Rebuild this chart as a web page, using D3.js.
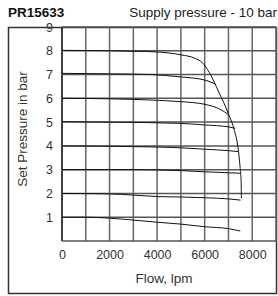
<!DOCTYPE html>
<html>
<head>
<meta charset="utf-8">
<script src="https://cdn.jsdelivr.net/npm/d3@7"></script>
<style>
  body { margin: 0; background: #fff; }
  text { font-family: "Liberation Sans", Arial, sans-serif; }
</style>
</head>
<body>
<div id="chart"></div>
<script>
// set pressure curves (flow lpm, pressure bar)
const curve8 = [[0,8.02],[2000,8.0],[3000,7.98],[4000,7.95],[5000,7.83],[5600,7.68],[5900,7.5],[6200,7.08],[6600,6.25],[7000,5.35],[7250,4.65],[7400,3.95],[7490,3.1],[7530,2.6],[7545,1.8]]
const curve7 = [[0,7.05],[2000,7.03],[3700,7.0],[5000,6.9],[6000,6.77],[6450,6.6]]
const curve6 = [[0,6.0],[2000,5.98],[3700,5.93],[5000,5.86],[6000,5.75],[6650,5.54],[7000,5.32]]
const curve5 = [[0,5.02],[2000,5.0],[4900,4.95],[6000,4.88],[7000,4.8],[7280,4.74]]
const curve4 = [[0,4.0],[3000,3.97],[5000,3.92],[6000,3.86],[7000,3.8],[7420,3.76]]
const curve3 = [[0,3.0],[3000,3.0],[5000,2.96],[6000,2.91],[7000,2.87],[7500,2.85]]
const curve2 = [[0,2.0],[2000,1.98],[3000,1.93],[4000,1.87],[5000,1.85],[6000,1.82],[7000,1.77],[7510,1.72]]
const curve1 = [[0,1.0],[1000,1.0],[2000,0.96],[3000,0.88],[4000,0.79],[5000,0.71],[6000,0.6],[7000,0.52],[7500,0.42]]
const curves = [curve8, curve7, curve6, curve5, curve4, curve3, curve2, curve1]

const xTicks = [0, 2000, 4000, 6000, 8000]
const yTicks = [1, 2, 3, 4, 5, 6, 7, 8, 9]
const xGrid = d3.range(0, 9001, 1000)
const yGrid = d3.range(0, 10, 1)

const W = 278, H = 296

let svg = d3.select('#chart')
    .append('svg')
    .attr('width', W)
    .attr('height', H)

const x = d3.scaleLinear().domain([0, 9000]).range([62, 276])
const y = d3.scaleLinear().domain([0, 9]).range([241, 27])

// outer frame
svg.append('rect')
    .attr('x', 8.5).attr('y', 27.5)
    .attr('width', 268).attr('height', 266)
    .attr('fill', 'none')
    .attr('stroke', '#333')
    .attr('stroke-width', 1.5)

// grid
svg.append('g').selectAll('line')
    .data(xGrid)
    .join('line')
    .attr('x1', d => x(d)).attr('x2', d => x(d))
    .attr('y1', y(9)).attr('y2', y(0))
    .attr('stroke', d => d === 0 ? '#000' : '#666')
    .attr('stroke-width', 1.5)

svg.append('g').selectAll('line')
    .data(yGrid)
    .join('line')
    .attr('x1', x(0)).attr('x2', x(9000))
    .attr('y1', d => y(d)).attr('y2', d => y(d))
    .attr('stroke', '#555')
    .attr('stroke-width', 1.5)

// titles
svg.append('text')
    .attr('x', 8).attr('y', 17)
    .style('font-size', '13.5px')
    .style('font-weight', 'bold')
    .style('fill', '#111')
    .text('PR15633')

svg.append('text')
    .attr('x', 277).attr('y', 17)
    .attr('text-anchor', 'end')
    .style('font-size', '13.5px')
    .style('fill', '#222')
    .text('Supply pressure - 10 bar')

// axes (labels only)
let xAxis = svg.append('g')
    .attr('transform', `translate(0,${y(0) + 6})`)
    .call(d3.axisBottom(x).tickValues(xTicks).tickSize(0).tickPadding(0).tickFormat(d3.format('d')))
xAxis.select('.domain').remove()
xAxis.selectAll('text')
    .attr('dy', '0.95em')
    .style('font-size', '12.5px')
    .style('fill', '#333')

let yAxis = svg.append('g')
    .attr('transform', `translate(${x(0) - 9},0)`)
    .call(d3.axisLeft(y).tickValues(yTicks).tickSize(0).tickPadding(0))
yAxis.select('.domain').remove()
yAxis.selectAll('text')
    .style('font-size', '12.5px')
    .style('fill', '#333')

svg.append('text')
    .attr('x', 164).attr('y', 283)
    .attr('text-anchor', 'middle')
    .style('font-size', '13.5px')
    .style('fill', '#333')
    .text('Flow, lpm')

svg.append('text')
    .attr('transform', 'translate(27,129) rotate(-90)')
    .attr('text-anchor', 'middle')
    .style('font-size', '13.5px')
    .style('fill', '#333')
    .text('Set Pressure in bar')

// curves
const line = d3.line()
    .x(d => x(d[0]))
    .y(d => y(d[1]))
    .curve(d3.curveMonotoneX)

svg.append('g').selectAll('path')
    .data(curves)
    .join('path')
    .attr('d', line)
    .attr('fill', 'none')
    .attr('stroke', '#111')
    .attr('stroke-width', 1)
</script>
</body>
</html>
